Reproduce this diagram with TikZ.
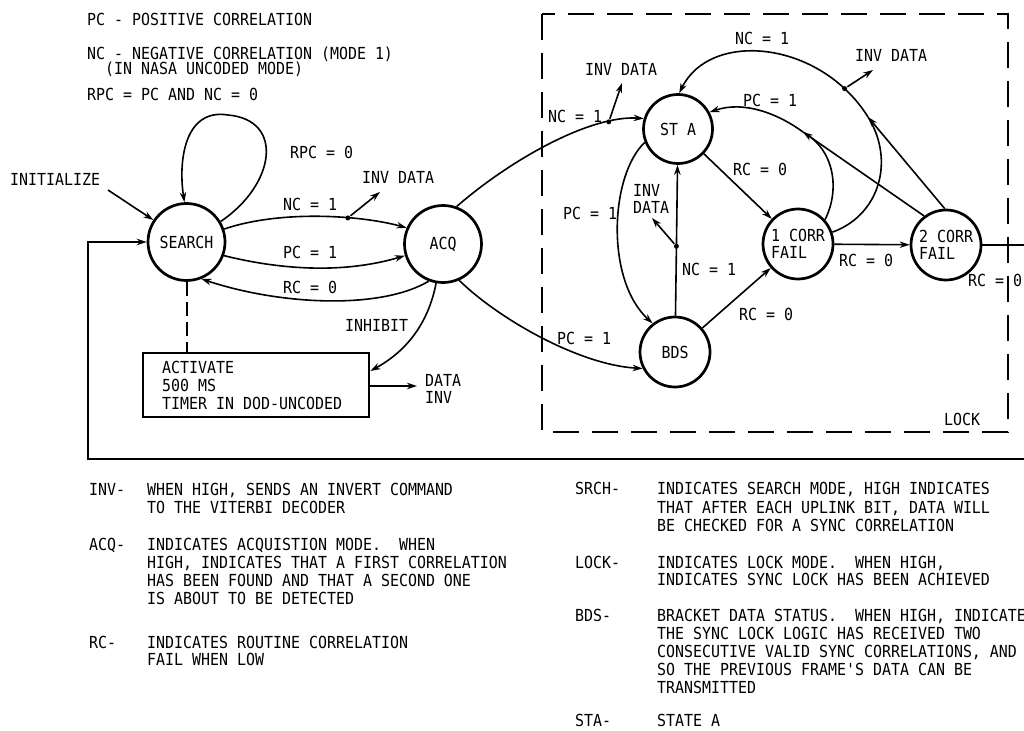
\documentclass[tikz,border=0pt]{standalone}
\usepackage{fontspec}
\newfontfamily\lgfont{DejaVu Sans Mono}[FakeStretch=0.9]
\usetikzlibrary{arrows.meta,calc}
\begin{document}
\begin{tikzpicture}[x=1pt,y=-1pt,
  every node/.style={font=\lgfont\fontsize{16.6}{17.5}\selectfont},
  txt/.style={inner sep=0pt, text height=12.1pt, text depth=0pt, anchor=west},
  state/.style={circle, draw, line width=2.7pt, inner sep=0pt, align=left},
  conn/.style={line width=1.6pt},
  arr/.style={conn, -{Stealth[length=10pt,width=6.5pt]}},
  dotn/.style={circle, fill, inner sep=0pt, minimum size=5pt},
  lockbox/.style={line width=2.7pt, dash pattern=on 26pt off 13pt},
]
\useasboundingbox (0,0) rectangle (1024,730);

% legend
\node[txt] (lg1) at (87,19) {PC - POSITIVE CORRELATION};
\node[txt] (lg2) at (87,53) {NC - NEGATIVE CORRELATION (MODE 1)};
\node[txt] (lg3) at (105,68) {(IN NASA UNCODED MODE)};
\node[txt] (lg4) at (87,94) {RPC = PC AND NC = 0};

% states
\node[state, minimum size=77pt] (search) at (186.5,242) {SEARCH};
\node[state, minimum size=77pt] (acq) at (443,244) {ACQ};
\node[state, minimum size=69pt] (sta) at (678,129) {ST A};
\node[state, minimum size=70pt] (bds) at (675,352) {BDS};
\node[state, minimum size=70pt] (cf1) at (798,244) {1 CORR\\FAIL};
\node[state, minimum size=70pt] (cf2) at (946,245) {2 CORR\\FAIL};

% timer box
\node[draw, line width=2.8pt, minimum width=226pt, minimum height=64pt, inner sep=0pt] (timer) at (256,385) {};
\node[txt] (tm1) at (162,367) {ACTIVATE};
\node[txt] (tm2) at (162,385) {500 MS};
\node[txt] (tm3) at (162,403) {TIMER IN DOD-UNCODED};

% lock box
\draw[lockbox] (542,14) rectangle (1008,432);
\node[txt] (tLock) at (944,419) {LOCK};

% coordinates for free ends
\coordinate (initp) at (108,190);
\coordinate (inv1tip) at (380,192);
\coordinate (inv2tip) at (622,83);
\coordinate (inv3tip) at (652,218);
\coordinate (inv4tip) at (873,70);
\coordinate (datatip) at (417,386);
\coordinate (P) at (803,132);
\coordinate (Q) at (868,117);

% search region connectors
\draw[arr] (initp) -- (search);
\draw[arr] (search.31) .. controls (275,185) and (285,120) .. (228,115) .. controls (185,108) and (178,160) .. (search.93);
\draw[arr] (search.19) .. controls (280,210) and (360,215) .. (acq.156) node[dotn, pos=0.65] (d1) {};
\draw[arr] (d1) -- (inv1tip);
\draw[arr] (search.-20) .. controls (290,272) and (350,272) .. (acq.197);
\draw[arr] (acq.-111) .. controls (380,310) and (280,305) .. (search.-68);
\draw[conn, line width=2pt, dash pattern=on 14pt off 6pt] (search.south) -- (search.south |- timer.north);
\draw[arr] (acq.-100) .. controls (428,325) and (405,352) .. (timer.7);
\draw[arr] (timer.east |- datatip) -- (datatip);

% acq to lock
\draw[arr] (acq.70) .. controls (510,160) and (590,115) .. (sta.163) node[dotn, pos=0.8] (d2) {};
\draw[arr] (d2) -- (inv2tip);
\draw[arr] (acq.-66) .. controls (500,320) and (580,365) .. (bds.207);

% inside lock
\draw[arr] (sta.202) .. controls (610,175) and (605,280) .. (bds.128);
\draw[arr] (bds) -- (sta) node[dotn, pos=0.46] (d3) {};
\draw[arr] (d3) -- (inv3tip);
\draw[arr] (sta) -- (cf1);
\draw[arr] (bds) -- (cf1);
\draw[arr] (cf1) -- (cf2);

\draw[conn] (cf1.42) .. controls (840,190) and (835,150) .. (P);
\draw[arr] (cf2.127) -- (P);
\draw[arr] (P) .. controls (780,115) and (745,100) .. (sta.28);

\draw[conn] (cf1.19) .. controls (880,215) and (895,160) .. (Q);
\draw[arr] (cf2.92) -- (Q);
\draw[arr] (Q) .. controls (820,40) and (710,30) .. (sta.88) node[dotn, pos=0.14] (d4) {};
\draw[arr] (d4) -- (inv4tip);

% feedback
\draw[arr] (cf2.east) -- (1045,245) -- (1045,459) -- (88,459) |- (search.west);

% labels
\node[txt] (tRPC) at (290,152) {RPC = 0};
\node[txt] (tInit) at (10,179) {INITIALIZE};
\node[txt] (tInv1) at (362,177) {INV DATA};
\node[txt] (tNC1) at (283,204) {NC = 1};
\node[txt] (tPC1) at (283,252) {PC = 1};
\node[txt] (tRC1) at (283,287) {RC = 0};
\node[txt] (tInh) at (345,325) {INHIBIT};
\node[txt] (tDat1) at (425,380) {DATA};
\node[txt] (tDat2) at (425,397) {INV};
\node[txt] (tInv2) at (585,69) {INV DATA};
\node[txt] (tNC2) at (548,116) {NC = 1};
\node[txt] (tNC3) at (735,38) {NC = 1};
\node[txt] (tInv3) at (855,55) {INV DATA};
\node[txt] (tPC2) at (743,100) {PC = 1};
\node[txt] (tRC2) at (733,169) {RC = 0};
\node[txt] (tInv4a) at (633,190) {INV};
\node[txt] (tInv4b) at (633,207) {DATA};
\node[txt] (tPC3) at (563,213) {PC = 1};
\node[txt] (tNC4) at (682,269) {NC = 1};
\node[txt] (tRC3) at (739,314) {RC = 0};
\node[txt] (tPC4) at (557,338) {PC = 1};
\node[txt] (tRC4) at (839,260) {RC = 0};
\node[txt] (tRC5) at (968,280) {RC = 0};

% bottom notes, left column
\node[txt] (nInv) at (89,489) {INV-};
\node[txt] (nInv1) at (147,489) {WHEN HIGH, SENDS AN INVERT COMMAND};
\node[txt] (nInv2) at (147,507) {TO THE VITERBI DECODER};
\node[txt] (nAcq) at (89,544) {ACQ-};
\node[txt] (nAcq1) at (147,544) {INDICATES ACQUISTION MODE.\ \ WHEN};
\node[txt] (nAcq2) at (147,562) {HIGH, INDICATES THAT A FIRST CORRELATION};
\node[txt] (nAcq3) at (147,580) {HAS BEEN FOUND AND THAT A SECOND ONE};
\node[txt] (nAcq4) at (147,598) {IS ABOUT TO BE DETECTED};
\node[txt] (nRc) at (89,642) {RC-};
\node[txt] (nRc1) at (147,642) {INDICATES ROUTINE CORRELATION};
\node[txt] (nRc2) at (147,659) {FAIL WHEN LOW};

% bottom notes, right column
\node[txt] (nSr) at (575,488) {SRCH-};
\node[txt] (nSr1) at (657,488) {INDICATES SEARCH MODE, HIGH INDICATES};
\node[txt] (nSr2) at (657,507) {THAT AFTER EACH UPLINK BIT, DATA WILL};
\node[txt] (nSr3) at (657,525) {BE CHECKED FOR A SYNC CORRELATION};
\node[txt] (nLk) at (575,562) {LOCK-};
\node[txt] (nLk1) at (657,562) {INDICATES LOCK MODE.\ \ WHEN HIGH,};
\node[txt] (nLk2) at (657,579) {INDICATES SYNC LOCK HAS BEEN ACHIEVED};
\node[txt] (nBd) at (575,615) {BDS-};
\node[txt] (nBd1) at (657,615) {BRACKET DATA STATUS.\ \ WHEN HIGH, INDICATE};
\node[txt] (nBd2) at (657,633) {THE SYNC LOCK LOGIC HAS RECEIVED TWO};
\node[txt] (nBd3) at (657,651) {CONSECUTIVE VALID SYNC CORRELATIONS, AND};
\node[txt] (nBd4) at (657,669) {SO THE PREVIOUS FRAME'S DATA CAN BE};
\node[txt] (nBd5) at (657,687) {TRANSMITTED};
\node[txt] (nSt) at (575,720) {STA-};
\node[txt] (nSt1) at (657,720) {STATE A};
\end{tikzpicture}
\end{document}
